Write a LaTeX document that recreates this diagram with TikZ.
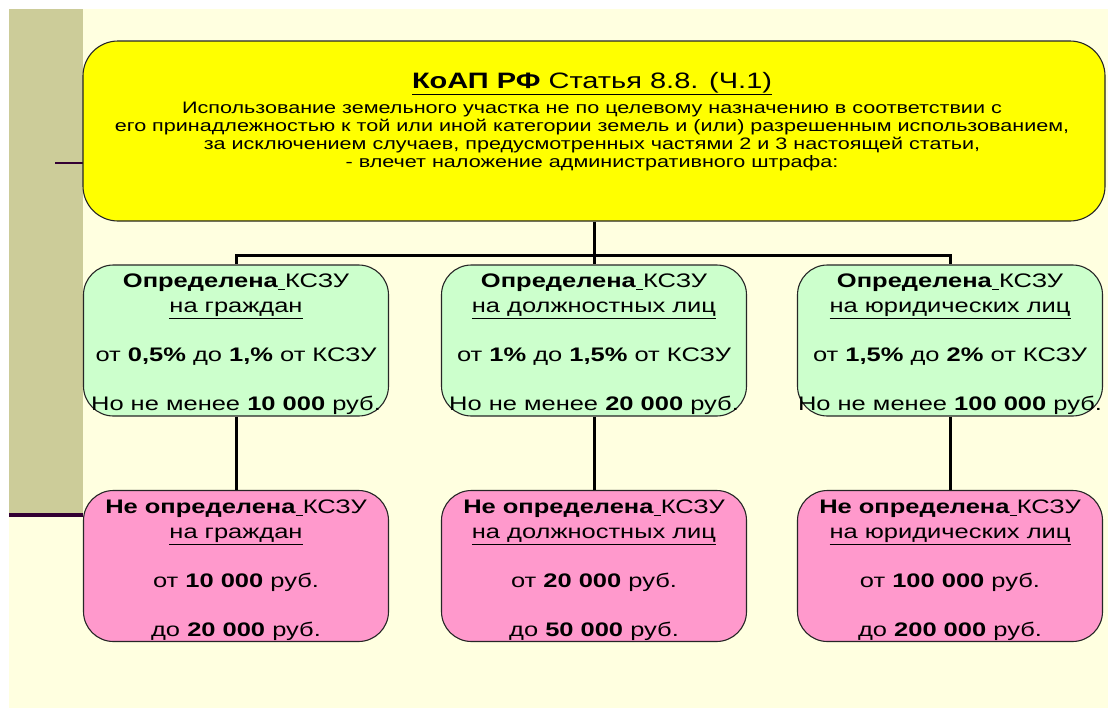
\documentclass[tikz,border=0pt]{standalone}
\usepackage{fontspec}
\setmainfont{Liberation Sans}[FakeStretch=1.3]
\usepackage{tikz}
\usetikzlibrary{positioning}
\definecolor{fon}{HTML}{FFFFE0}
\definecolor{oliva}{HTML}{CCCC99}
\definecolor{liniya}{HTML}{330033}
\definecolor{zhelt}{HTML}{FFFF00}
\definecolor{zelen}{HTML}{CCFFCC}
\definecolor{roz}{HTML}{FF99CC}

\begin{document}
\begin{tikzpicture}[x=1pt, y=-1pt,
  korob/.style={draw=black!85, line width=1.1pt, rounded corners=30pt,
    minimum width=305pt, minimum height=151pt, inner sep=0pt,
    align=center, font=\fontsize{19.6}{25}\selectfont},
  svyaz/.style={line width=3pt}]

\useasboundingbox (0,0) rectangle (1108,710);

% Fon
\fill[fon] (9,9) rectangle (1108,708);
\fill[oliva] (9,9) rectangle (83,515);
\draw[liniya, line width=2pt] (55,163) -- (83,163);
\draw[liniya, line width=4pt] (9,515) -- (83,515);

% Statya
\node[draw=black!85, line width=1.1pt, rounded corners=35pt, fill=zhelt,
  minimum width=1022pt, minimum height=180pt] (kodeks) at (594,131) {};
\node[anchor=base, font=\fontsize{22.3}{26}\selectfont] (zagol) at (592,88)
  {\underline{\textbf{КоАП РФ} Статья 8.8. (Ч.1)}};
\node[below=0pt of zagol, align=center, font=\fontsize{16.6}{18}\selectfont] (tekst)
  {Использование земельного участка не по целевому назначению в соответствии с\\
   его принадлежностью к той или иной категории земель и (или) разрешенным использованием,\\
   за исключением случаев, предусмотренных частями 2 и 3 настоящей статьи,\\
   - влечет наложение административного штрафа:};

% Opredelena
\node[korob, fill=zelen] (grazh) at (236,340.5)
  {\rule{0pt}{22pt}\textbf{Определена}\underline{\ }КСЗУ\\ \underline{на граждан}\\[24pt]
   от \textbf{0,5\%} до \textbf{1,\%} от КСЗУ\\[24pt]
   Но не менее \textbf{10 000} руб.};
\node[korob, fill=zelen] (dolzh) at (594,340.5)
  {\rule{0pt}{22pt}\textbf{Определена}\underline{\ }КСЗУ\\ \underline{на должностных лиц}\\[24pt]
   от \textbf{1\%} до \textbf{1,5\%} от КСЗУ\\[24pt]
   Но не менее \textbf{20 000} руб.};
\node[korob, fill=zelen] (yur) at (950,340.5)
  {\rule{0pt}{22pt}\textbf{Определена}\underline{\ }КСЗУ\\ \underline{на юридических лиц}\\[24pt]
   от \textbf{1,5\%} до \textbf{2\%} от КСЗУ\\[24pt]
   Но не менее \textbf{100 000} руб.};

% Ne opredelena
\node[korob, fill=roz] (grazhN) at (236,566)
  {\rule{0pt}{22pt}\textbf{Не определена}\underline{\ }КСЗУ\\ \underline{на граждан}\\[24pt]
   от \textbf{10 000} руб.\\[24pt]
   до \textbf{20 000} руб.};
\node[korob, fill=roz] (dolzhN) at (594,566)
  {\rule{0pt}{22pt}\textbf{Не определена}\underline{\ }КСЗУ\\ \underline{на должностных лиц}\\[24pt]
   от \textbf{20 000} руб.\\[24pt]
   до \textbf{50 000} руб.};
\node[korob, fill=roz] (yurN) at (950,566)
  {\rule{0pt}{22pt}\textbf{Не определена}\underline{\ }КСЗУ\\ \underline{на юридических лиц}\\[24pt]
   от \textbf{100 000} руб.\\[24pt]
   до \textbf{200 000} руб.};

% Svyazi
\coordinate (razv) at (594,255);
\draw[svyaz] (kodeks.south) -- (razv);
\draw[svyaz] (razv) -| (grazh.north);
\draw[svyaz] (razv) -| (yur.north);
\draw[svyaz] (razv) -- (dolzh.north);
\draw[svyaz] (grazh.south) -- (grazhN.north);
\draw[svyaz] (dolzh.south) -- (dolzhN.north);
\draw[svyaz] (yur.south) -- (yurN.north);

\end{tikzpicture}
\end{document}
